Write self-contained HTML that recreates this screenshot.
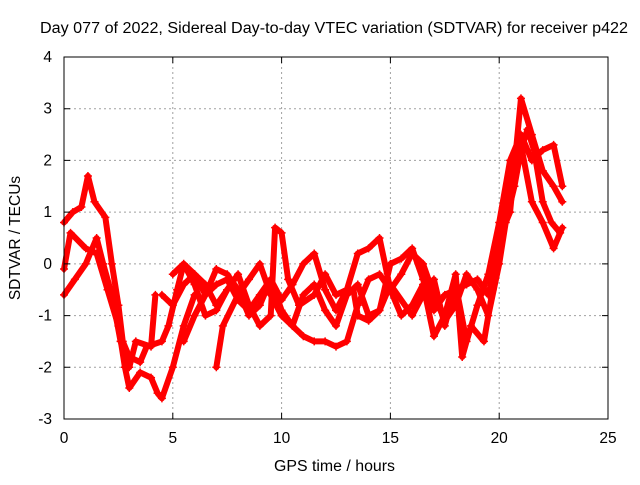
<!DOCTYPE html>
<html><head><meta charset="utf-8"><style>
body{margin:0;background:#fff}
svg text{font-family:"Liberation Sans",sans-serif;font-size:15.5px;fill:#000}
</style></head><body>
<svg id="chart" width="640" height="480" xmlns="http://www.w3.org/2000/svg">
<rect width="640" height="480" fill="#fff"/>
<g id="grid"></g>
<g id="series"></g>
<rect x="64" y="57" width="544" height="362" fill="none" stroke="#000" stroke-width="1"/>
<g id="axes"></g>
<text x="40" y="33" textLength="588" lengthAdjust="spacingAndGlyphs">Day 077 of 2022, Sidereal Day-to-day VTEC variation (SDTVAR) for receiver p422</text>
<text x="274" y="471" textLength="121" lengthAdjust="spacingAndGlyphs">GPS time / hours</text>
<text transform="translate(20,238) rotate(-90)" text-anchor="middle">SDTVAR / TECUs</text>
</svg>
<script>
const xTicks=[0,5,10,15,20,25];
const yTicks=[-3,-2,-1,0,1,2,3,4];
const trackA=[[0,-0.1],[0.3,0.6],[1,0.3],[1.5,0.2],[2,-0.5],[2.5,-1.2],[2.8,-2],[3,-2.4],[3.5,-2.1],[4,-2.2],[4.3,-2.5],[4.5,-2.6],[5,-2],[5.5,-1.2],[6,-0.6]];
const trackB=[[0,0.8],[0.4,1.0],[0.8,1.1],[1.1,1.7],[1.4,1.2],[1.9,0.9],[2.2,0],[2.5,-0.8],[2.7,-1.5],[3,-1.8],[3.5,-1.9],[3.8,-1.6],[4.5,-1.5],[4.8,-1.2],[5.2,-0.5],[5.5,0],[6,-0.2],[6.5,-0.4],[7,-0.8],[7.5,-0.5]];
const trackC=[[0,-0.6],[0.5,-0.3],[1,0],[1.5,0.5],[1.8,0],[2.2,-0.6],[2.6,-1.5],[3,-2],[3.3,-1.5],[4,-1.6],[4.2,-0.6]];
const trackD=[[7,-2],[7.3,-1.2],[8,-0.6],[8.5,-0.3],[9,0],[9.5,-0.6],[10,-1.0],[10.5,-1.2],[11,-1.4],[11.5,-1.5],[12,-1.5],[12.5,-1.6],[13,-1.5],[13.5,-0.8],[14,-0.3],[14.5,-0.2],[15,-0.5],[15.5,-0.2],[16,0.2],[16.5,0],[17,-0.6],[17.5,-1.1],[18,-0.8],[18.5,-0.2],[19,-0.5],[19.5,-1.0],[20,0],[20.3,0.8],[20.7,1.5],[21,2.2],[21.3,2.6],[21.6,2.2],[22,1.2],[22.4,0.8],[22.8,0.6]];
const trackE=[[5,-0.2],[5.5,0],[6,-0.4],[6.5,-1.0],[7,-0.9],[7.5,-0.5],[8,-0.2],[8.5,-0.8],[9,-1.2],[9.5,-1.0],[9.7,0.7],[10,0.6],[10.3,-0.3],[10.8,-0.8],[11.5,-0.6],[12,-0.2],[12.5,-0.6],[13,-0.5],[13.5,0.2],[14,0.3],[14.5,0.5],[15,-0.5],[15.5,-1.0],[16,-0.8],[16.5,-0.4],[17,-1.4],[17.5,-1.0],[18,-0.2],[18.3,-1.8],[18.7,-1.2],[19.3,-1.5],[19.7,-0.5],[20,0.5],[20.5,1.0],[21,3.2],[21.5,2.5],[22,1.8],[22.5,1.5],[22.9,1.2]];
const trackF=[[4.5,-0.6],[5,-0.8],[5.5,-0.4],[6,-0.2],[6.5,-0.6],[7,-0.4],[7.5,-0.3],[8,-0.7],[8.5,-0.9],[9,-0.6],[9.5,-0.3],[10,-0.7],[10.5,-0.4],[11,0],[11.5,0.2],[12,-0.5],[12.5,-0.9],[13,-0.5],[13.3,-0.5],[13.5,-1.0],[14,-1.1],[14.5,-0.9],[15,0],[15.5,0.1],[16,0.3],[16.5,-0.3],[17,-0.9],[17.5,-0.6],[18,-0.5],[18.5,-0.4],[19,-0.3],[19.5,-0.6],[20,0.3],[20.5,1.8],[21,2.3],[21.5,1.2],[22,0.8],[22.5,0.3],[22.9,0.7]];
const trackG=[[5.5,-1.5],[6,-1.0],[6.5,-0.6],[7,-0.1],[7.5,-0.2],[8,-0.5],[8.5,-1.0],[9,-0.8],[9.5,-0.3],[10,-0.9],[10.5,-1.2],[11,-0.6],[11.5,-0.4],[12,-0.9],[12.5,-1.2],[13,-0.6],[13.5,-0.4],[14,-1.0],[14.5,-0.9],[15,-0.4],[16,-1.0],[16.5,-0.6],[17,-0.3],[17.5,-1.2],[18,-0.4],[18.5,-1.5],[19,-0.8],[19.5,-0.2],[20,0.8],[20.5,2.0],[21,2.5],[21.5,2.0],[22,2.2],[22.5,2.3],[22.9,1.5]];
const tracks=[trackA,trackB,trackC,trackD,trackE,trackF,trackG];
const NS="http://www.w3.org/2000/svg";
const X=h=>64+h*544/25, Y=v=>57+(4-v)*362/7;
function mk(t,a,p){const e=document.createElementNS(NS,t);for(const k in a)e.setAttribute(k,a[k]);p.appendChild(e);return e;}
const grid=document.getElementById('grid'),axes=document.getElementById('axes'),ser=document.getElementById('series');
xTicks.forEach(t=>{const x=X(t);
 if(t>0&&t<25){const l=mk('line',{x1:x,x2:x,y1:57,y2:419,stroke:'#a0a0a0','stroke-dasharray':'2,3'},grid);}
 const k=mk('path',{d:`M${x},419v-6M${x},57v6`,stroke:'#000'},axes);
 const tx=mk('text',{x:x,y:443,'text-anchor':'middle'},axes);tx.textContent=t;});
yTicks.forEach(t=>{const y=Y(t);
 if(t>-3&&t<4){const l=mk('line',{x1:64,x2:608,y1:y,y2:y,stroke:'#a0a0a0','stroke-dasharray':'2,3'},grid);}
 const k=mk('path',{d:`M64,${y}h6M608,${y}h-6`,stroke:'#000'},axes);
 const tx=mk('text',{x:52,y:y+5,'text-anchor':'end'},axes);tx.textContent=t;});
tracks.forEach(tr=>{
 const pl=mk('polyline',{points:tr.map(p=>X(p[0])+','+Y(p[1])).join(' '),fill:'none',stroke:'#f00','stroke-width':6,'stroke-linejoin':'round','stroke-linecap':'round'},ser);
 
 
 tr.forEach(p=>{const x=X(p[0]),y=Y(p[1]);
  const m=mk('path',{d:`M${x-4},${y}h8M${x},${y-4}v8`,stroke:'#f00','stroke-width':1.5},ser);
  
  });
});
</script>
</body></html>
